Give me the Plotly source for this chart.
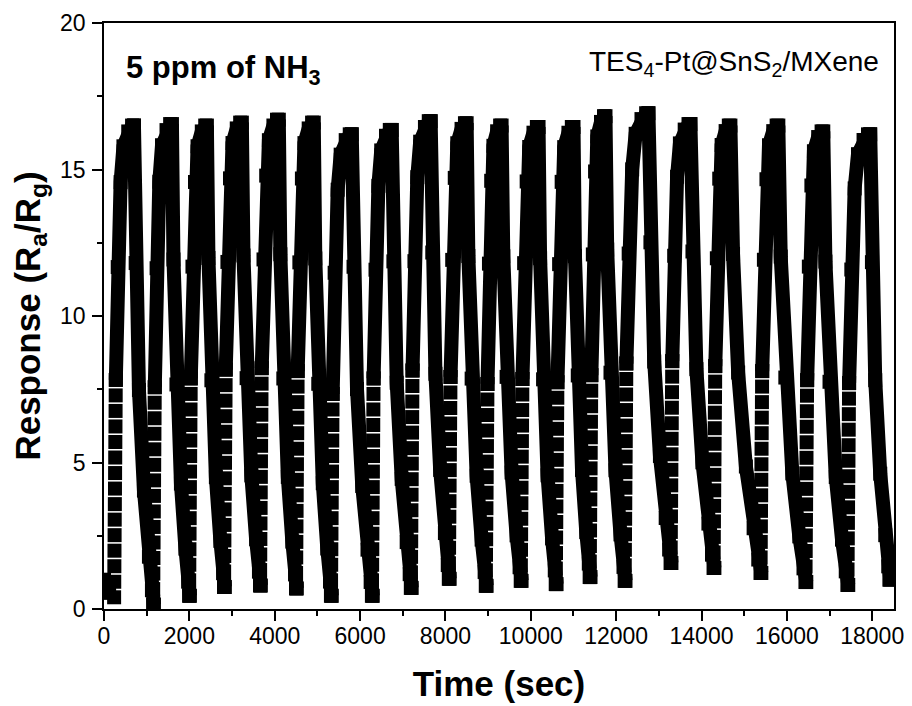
import plotly.graph_objects as go

# ---- data ----
# centre time (s) of the fast-rise column of each response cycle
rise_start = [257, 1170, 2013, 2832, 3675, 4518, 5337, 6297, 7209, 8099, 8965,
              9784, 10604, 11399, 12219, 13295, 14302, 15402, 16455, 17438, 18422]
# time (s) where each cycle's peak ends and recovery begins
peak_end = [702, 1592, 2411, 3230, 4096, 4915, 5805, 6741, 7654, 8497, 9316,
            10182, 11001, 11750, 12757, 13740, 14677, 15800, 16853, 17953]
# peak response of each cycle
peak_value = [16.5, 16.55, 16.5, 16.6, 16.7, 16.6, 16.2, 16.35, 16.65, 16.58,
              16.5, 16.45, 16.45, 16.82, 16.92, 16.55, 16.5, 16.5, 16.3, 16.2]
# baseline response at the start of each cycle
floor_value = [0.4, 0.15, 0.45, 0.75, 0.8, 0.7, 0.45, 0.45, 0.72, 1.03, 0.79,
               0.96, 0.85, 1.09, 0.96, 1.57, 1.4, 1.23, 0.92, 0.82, 1.0]
# initial baseline points
start_time = [0, 120]
start_value = [1.0, 0.55]
# shape of one cycle, read from the first humps (fractions)
rise_time_frac = [0.0, 0.105, 0.263, 0.42, 0.684, 0.895, 1.0]
rise_value_frac = [0.47, 0.70, 0.88, 0.956, 0.9875, 1.0, 1.0]
decay_time_frac = [0.0, 0.085, 0.25, 0.5, 0.75, 0.9, 1.0]
decay_value_frac = [1.0, 0.713, 0.448, 0.238, 0.10, 0.03, 0.0]
column_step = 0.53      # spacing of the separated squares in the fast rise
column_spread = 40      # s, horizontal drift of that column
last_value = 1.9        # last recorded value (rise of the cut-off cycle)

x_ticks = [0, 2000, 4000, 6000, 8000, 10000, 12000, 14000, 16000, 18000]
x_labels = ["0", "2000", "4000", "6000", "8000", "10000", "12000", "14000", "16000", "18000"]
y_ticks = [0, 5, 10, 15, 20]
y_labels = ["0", "5", "10", "15", "20"]

# ---- build the traces ----
sq_x, sq_y = list(start_time), list(start_value)
ln_x, ln_y = [], []
n = len(peak_value)
for i in range(len(rise_start)):
    f = floor_value[i]
    top = f + rise_value_frac[0] * (peak_value[i] - f) if i < n else last_value
    vals = []
    v = f
    while v <= top:
        vals.append(v)
        v += column_step
    for k, v in enumerate(vals):
        sq_x.append(rise_start[i] - column_spread / 2 + column_spread * k / max(len(vals) - 1, 1))
        sq_y.append(v)
    if i >= n:
        break
    p = peak_value[i]
    d_rise = peak_end[i] - rise_start[i]
    ln_x.append(rise_start[i] + column_spread / 2)
    ln_y.append(vals[-1])
    for tf, vf in zip(rise_time_frac[1:], rise_value_frac[1:]):
        ln_x.append(rise_start[i] + column_spread / 2 + tf * (d_rise - column_spread / 2))
        ln_y.append(f + vf * (p - f))
    fn = floor_value[i + 1]
    d_dec = rise_start[i + 1] - peak_end[i]
    for tf, vf in zip(decay_time_frac[1:], decay_value_frac[1:]):
        ln_x.append(peak_end[i] + tf * d_dec)
        ln_y.append(fn + vf * (p - fn))
    ln_x.append(None)
    ln_y.append(None)

fig = go.Figure()
fig.add_trace(go.Scatter(x=ln_x, y=ln_y, mode="lines+markers",
                         line=dict(color="black", width=14),
                         marker=dict(symbol="square", size=14, color="black",
                                     line=dict(width=0)),
                         hoverinfo="skip", showlegend=False))
fig.add_trace(go.Scatter(x=sq_x, y=sq_y, mode="markers",
                         marker=dict(symbol="square", size=14, color="black",
                                     line=dict(width=0)),
                         showlegend=False))

font = "Arial, Liberation Sans, sans-serif"
axis_common = dict(showline=True, linecolor="black", linewidth=1.6, mirror=True,
                   ticks="outside", ticklen=10, tickwidth=1.6, tickcolor="black",
                   showgrid=False, zeroline=False, automargin=False,
                   tickfont=dict(family=font, size=23, color="black"))
fig.update_xaxes(range=[0, 18510], tickvals=x_ticks, ticktext=x_labels,
                 ticklabelstandoff=-4,
                 minor=dict(dtick=1000, ticks="outside", ticklen=5, tickwidth=1.6,
                            tickcolor="black", showgrid=False),
                 title=dict(text="<b>Time (sec)</b>",
                            font=dict(family=font, size=35, color="black"), standoff=23),
                 **axis_common)
fig.update_yaxes(range=[0, 20], tickvals=y_ticks, ticktext=y_labels,
                 ticklabelstandoff=2,
                 minor=dict(dtick=2.5, ticks="outside", ticklen=5, tickwidth=1.6,
                            tickcolor="black", showgrid=False),
                 title=dict(text="<b>Response (R<sub>a</sub>/R<sub>g</sub>)</b>",
                            font=dict(family=font, size=35, color="black"), standoff=10),
                 **axis_common)
fig.add_annotation(x=0.025, y=0.958, xref="paper", yref="paper", xanchor="left",
                   yanchor="top", showarrow=False,
                   text="<b>5 ppm of NH<sub>3</sub></b>",
                   font=dict(family=font, size=31, color="black"))
fig.add_annotation(x=0.983, y=0.965, xref="paper", yref="paper", xanchor="right",
                   yanchor="top", showarrow=False,
                   text="TES<sub>4</sub>-Pt@SnS<sub>2</sub>/MXene",
                   font=dict(family=font, size=28, color="black"))
fig.update_layout(width=904, height=698, margin=dict(l=96, r=18, t=15, b=97),
                  plot_bgcolor="white", paper_bgcolor="white")
fig.write_html("out.html")
